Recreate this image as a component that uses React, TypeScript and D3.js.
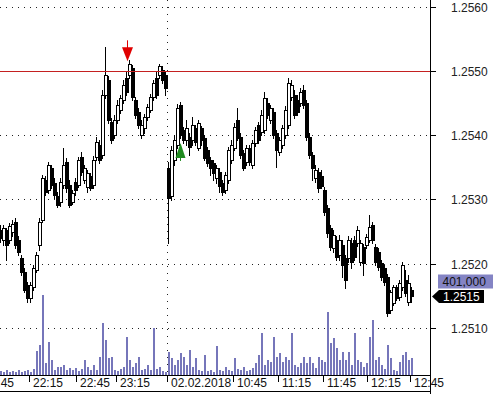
import React from 'react';
import * as d3 from 'd3';

const W = 495;
const H = 394;

// ---- data ----
const opens = [1.25252,1.25237,1.25252,1.25237,1.25249,1.25265,1.25237,1.25209,1.25187,1.25167,1.25147,1.25164,1.25190,1.25229,1.25268,1.25330,1.25315,1.25349,1.25325,1.25305,1.25296,1.25322,1.25358,1.25322,1.25296,1.25327,1.25322,1.25366,1.25330,1.25319,1.25336,1.25322,1.25366,1.25385,1.25369,1.25462,1.25486,1.25420,1.25400,1.25423,1.25439,1.25455,1.25489,1.25493,1.25504,1.25455,1.25436,1.25400,1.25411,1.25428,1.25439,1.25459,1.25489,1.25493,1.25501,1.25493,1.25349,1.25305,1.25361,1.25385,1.25447,1.25408,1.25392,1.25397,1.25392,1.25411,1.25380,1.25411,1.25395,1.25377,1.25361,1.25357,1.25333,1.25343,1.25325,1.25315,1.25330,1.25361,1.25380,1.25423,1.25397,1.25372,1.25358,1.25380,1.25353,1.25388,1.25416,1.25405,1.25408,1.25450,1.25423,1.25436,1.25403,1.25374,1.25385,1.25400,1.25416,1.25459,1.25462,1.25455,1.25450,1.25470,1.25450,1.25397,1.25369,1.25333,1.25343,1.25336,1.25315,1.25287,1.25256,1.25224,1.25237,1.25213,1.25229,1.25209,1.25209,1.25232,1.25237,1.25232,1.25203,1.25226,1.25229,1.25237,1.25260,1.25226,1.25218,1.25201,1.25193,1.25179,1.25128,1.25139,1.25164,1.25148,1.25164,1.25175,1.25140,1.25159];
const highs = [1.25260,1.25260,1.25256,1.25263,1.25268,1.25271,1.25243,1.25213,1.25193,1.25171,1.25171,1.25198,1.25218,1.25271,1.25338,1.25336,1.25358,1.25353,1.25333,1.25311,1.25333,1.25380,1.25364,1.25330,1.25315,1.25333,1.25366,1.25374,1.25353,1.25346,1.25341,1.25367,1.25397,1.25392,1.25470,1.25537,1.25492,1.25427,1.25431,1.25455,1.25462,1.25486,1.25498,1.25517,1.25509,1.25459,1.25442,1.25423,1.25433,1.25448,1.25464,1.25486,1.25498,1.25511,1.25507,1.25498,1.25358,1.25383,1.25400,1.25448,1.25451,1.25413,1.25423,1.25403,1.25428,1.25416,1.25423,1.25414,1.25400,1.25381,1.25366,1.25361,1.25353,1.25349,1.25330,1.25343,1.25381,1.25392,1.25419,1.25442,1.25403,1.25377,1.25385,1.25385,1.25392,1.25413,1.25420,1.25439,1.25467,1.25458,1.25447,1.25442,1.25408,1.25397,1.25416,1.25445,1.25489,1.25486,1.25470,1.25462,1.25473,1.25478,1.25455,1.25403,1.25374,1.25353,1.25349,1.25346,1.25319,1.25291,1.25260,1.25252,1.25243,1.25245,1.25237,1.25213,1.25243,1.25240,1.25243,1.25259,1.25237,1.25231,1.25246,1.25276,1.25265,1.25231,1.25224,1.25206,1.25198,1.25184,1.25159,1.25167,1.25167,1.25175,1.25203,1.25190,1.25182,1.25164];
const lows = [1.25234,1.25229,1.25206,1.25232,1.25243,1.25224,1.25213,1.25182,1.25156,1.25140,1.25140,1.25159,1.25187,1.25221,1.25265,1.25307,1.25310,1.25318,1.25302,1.25288,1.25290,1.25318,1.25311,1.25288,1.25293,1.25307,1.25319,1.25338,1.25325,1.25311,1.25315,1.25318,1.25361,1.25357,1.25364,1.25458,1.25419,1.25388,1.25395,1.25419,1.25434,1.25450,1.25462,1.25489,1.25455,1.25427,1.25411,1.25395,1.25403,1.25423,1.25436,1.25455,1.25458,1.25489,1.25481,1.25462,1.25232,1.25299,1.25353,1.25380,1.25395,1.25388,1.25385,1.25369,1.25385,1.25385,1.25377,1.25385,1.25361,1.25352,1.25338,1.25330,1.25325,1.25311,1.25307,1.25310,1.25325,1.25357,1.25377,1.25392,1.25364,1.25346,1.25353,1.25353,1.25349,1.25383,1.25388,1.25400,1.25403,1.25427,1.25419,1.25395,1.25350,1.25369,1.25380,1.25395,1.25411,1.25455,1.25427,1.25431,1.25445,1.25442,1.25392,1.25364,1.25330,1.25327,1.25311,1.25318,1.25276,1.25241,1.25221,1.25218,1.25206,1.25206,1.25179,1.25162,1.25203,1.25193,1.25206,1.25228,1.25198,1.25182,1.25224,1.25234,1.25232,1.25198,1.25190,1.25175,1.25167,1.25119,1.25123,1.25136,1.25144,1.25144,1.25159,1.25150,1.25136,1.25140];
const closes = [1.25240,1.25256,1.25229,1.25259,1.25262,1.25229,1.25218,1.25187,1.25159,1.25147,1.25167,1.25193,1.25213,1.25265,1.25333,1.25311,1.25353,1.25322,1.25307,1.25291,1.25327,1.25353,1.25318,1.25291,1.25310,1.25315,1.25361,1.25343,1.25349,1.25341,1.25318,1.25361,1.25389,1.25361,1.25462,1.25493,1.25423,1.25392,1.25423,1.25447,1.25458,1.25478,1.25467,1.25511,1.25459,1.25431,1.25416,1.25416,1.25428,1.25444,1.25459,1.25482,1.25462,1.25507,1.25486,1.25473,1.25302,1.25377,1.25392,1.25442,1.25400,1.25392,1.25411,1.25381,1.25416,1.25389,1.25419,1.25392,1.25364,1.25357,1.25349,1.25341,1.25349,1.25321,1.25311,1.25338,1.25377,1.25385,1.25413,1.25395,1.25369,1.25349,1.25380,1.25358,1.25388,1.25408,1.25392,1.25431,1.25458,1.25431,1.25442,1.25400,1.25377,1.25392,1.25411,1.25439,1.25482,1.25478,1.25431,1.25436,1.25467,1.25447,1.25397,1.25369,1.25349,1.25346,1.25318,1.25321,1.25280,1.25248,1.25226,1.25245,1.25210,1.25237,1.25198,1.25175,1.25237,1.25203,1.25210,1.25252,1.25232,1.25201,1.25241,1.25257,1.25237,1.25203,1.25195,1.25179,1.25171,1.25123,1.25156,1.25164,1.25147,1.25170,1.25198,1.25154,1.25170,1.25150];
// volume in thousands
const volumesK = [17,13,21,13,17,13,21,13,17,21,13,26,102,128,342,51,141,64,21,34,34,43,21,30,21,30,17,26,64,34,21,43,21,77,222,149,73,77,21,17,26,34,162,64,34,51,77,21,26,43,21,201,26,34,17,13,98,73,43,64,94,77,43,107,34,73,21,17,85,17,21,13,124,21,17,34,21,17,73,26,21,34,17,21,30,51,85,179,43,64,56,162,77,94,56,77,64,179,43,34,51,77,51,77,51,30,77,64,56,269,137,158,115,64,98,64,98,43,179,64,56,34,51,162,235,64,77,43,26,128,73,21,17,56,85,98,64,73];

const priceTicks = [1.2510, 1.2520, 1.2530, 1.2540, 1.2550, 1.2560];
const timeLabels = ['21:45', '22:15', '22:45', '23:15', '02.02.2018', '10:45', '11:15', '11:45', '12:15', '12:45'];
const timeBarIndex = [-7, 9.5, 25, 38.5, 55.5, 77.5, 92.5, 107.5, 122, 136.5];
const sessionBreakIndex = 55.5;
const levelPrice = 1.2550;
const sellSignalIndex = 42;
const sellSignalPrice = 1.25515;
const buySignalIndex = 60;
const buySignalPrice = 1.25388;
const volumeMaxK = 401;

export default function App() {
  const n = closes.length;
  const plotRight = 430;
  const axisY = 375;
  const x = d3.scaleLinear().domain([0, n - 1]).range([1, 1 + 3 * (n - 1)]);
  const y = d3.scaleLinear().domain([1.2510, 1.2560]).range([328.0, 6.7]);
  const v = d3.scaleLinear().domain([0, volumeMaxK]).range([axisY, 281.3]);
  const fmtP = d3.format('.4f');
  const fmtV = d3.format(',');
  const font = 'Liberation Sans, Arial, sans-serif';
  const gy = (p: number) => Math.round(y(p)) + 0.5;

  const candles = d3.range(n).map((i) => ({ i, o: opens[i], h: highs[i], l: lows[i], c: closes[i], vol: volumesK[i] }));
  const lastClose = closes[n - 1];
  const ly = Math.round(y(lastClose));

  const sx = Math.round(x(sellSignalIndex)) + 0.5;
  const sy = y(sellSignalPrice);
  const bx = Math.round(x(buySignalIndex)) - 0.5;
  const by = y(buySignalPrice);
  const breakX = Math.floor(x(sessionBreakIndex)) + 0.5;

  return (
    <svg width={W} height={H} style={{ position: 'absolute', left: 0, top: 0, background: '#fff', display: 'block' }}>
      <rect x={0} y={0} width={W} height={H} fill="#fff" />
      {/* grid */}
      {priceTicks.map((p) => (
        <line key={'g' + p} x1={0} x2={plotRight} y1={gy(p)} y2={gy(p)} stroke="#222" strokeDasharray="1,5" />
      ))}
      <line x1={breakX} x2={breakX} y1={0} y2={axisY} stroke="#222" strokeDasharray="1,6" />
      {/* volume */}
      {candles.map((d) => {
        const px = Math.round(x(d.i));
        const top = Math.round(v(d.vol));
        return <rect key={'v' + d.i} x={px - 1} y={top} width={2} height={axisY - top} fill="#7676ba" />;
      })}
      {/* candles */}
      {candles.map((d) => {
        const px = Math.round(x(d.i));
        const up = d.c >= d.o;
        const top = Math.round(y(Math.max(d.o, d.c)));
        const bot = Math.round(y(Math.min(d.o, d.c)));
        return (
          <g key={'c' + d.i}>
            <line x1={px - 0.5} x2={px - 0.5} y1={Math.round(y(d.h))} y2={Math.round(y(d.l)) + 1} stroke="#000" />
            <rect x={px - 1.5} y={top + 0.5} width={3} height={Math.max(bot - top, 1)} fill={up ? '#fff' : '#000'} stroke="#000" />
          </g>
        );
      })}
      {/* level line */}
      <line x1={0} x2={plotRight} y1={gy(levelPrice)} y2={gy(levelPrice)} stroke="#c42020" />
      {/* sell arrow */}
      <line x1={sx} x2={sx} y1={sy - 21} y2={sy - 13} stroke="#e00000" />
      <path d={`M${sx - 5.5},${sy - 14}L${sx + 5.5},${sy - 14}L${sx},${sy}Z`} fill="#e00000" />
      {/* buy arrow */}
      <line x1={bx} x2={bx} y1={by + 15} y2={by + 18} stroke="#1f8a1f" />
      <path d={`M${bx - 5},${by + 15}L${bx + 5},${by + 15}L${bx},${by}Z`} fill="#1f8a1f" />
      {/* axes */}
      <line x1={0} x2={plotRight + 0.5} y1={axisY + 0.5} y2={axisY + 0.5} stroke="#000" />
      <line x1={0} x2={plotRight + 0.5} y1={391.5} y2={391.5} stroke="#000" />
      {timeBarIndex.map((t, k) => {
        const tx = Math.floor(x(t)) + 0.5;
        return (
          <g key={'t' + k}>
            <line x1={tx} x2={tx} y1={axisY + 1} y2={axisY + 7} stroke="#000" />
            <text x={tx + 3.5} y={387} fontFamily={font} fontSize={12} fill="#111">{timeLabels[k]}</text>
          </g>
        );
      })}
      <line x1={plotRight + 0.5} x2={plotRight + 0.5} y1={0} y2={H} stroke="#000" />
      {priceTicks.map((p) => (
        <g key={'p' + p}>
          <line x1={plotRight + 1} x2={plotRight + 6} y1={gy(p)} y2={gy(p)} stroke="#000" />
          <text x={451} y={Math.round(y(p)) + 4.5} fontFamily={font} fontSize={12} fill="#222">{fmtP(p)}</text>
        </g>
      ))}
      {/* volume label */}
      <rect x={438} y={274.5} width={55} height={14} fill="#8484c4" />
      <text x={442.5} y={285.8} fontFamily={font} fontSize={12} fill="#111">{fmtV(volumeMaxK * 1000)}</text>
      {/* last price label */}
      <path d={`M432,${ly + 0.5}L439,${ly - 6}L484,${ly - 6}L484,${ly + 7}L439,${ly + 7}Z`} fill="#000" />
      <text x={443} y={ly + 5} fontFamily={font} fontSize={12} fill="#fff">{fmtP(lastClose)}</text>
    </svg>
  );
}
